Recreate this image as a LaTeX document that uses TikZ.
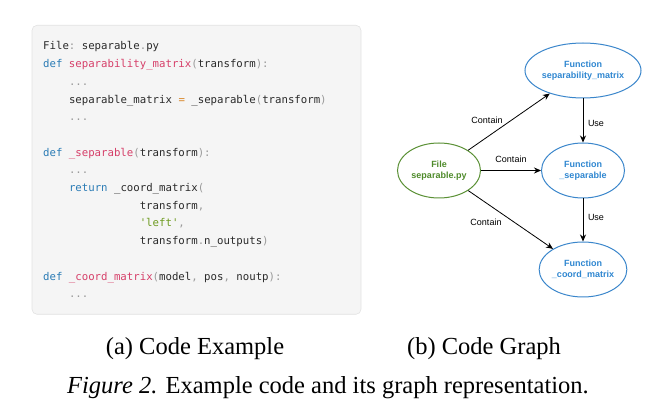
\documentclass[tikz,border=0pt]{standalone}
\usepackage{fontspec}
\setmainfont{Liberation Serif}
\setsansfont{Liberation Sans}
\setmonofont{DejaVu Sans Mono}
\usetikzlibrary{shapes.geometric,arrows.meta}
\definecolor{boxfill}{HTML}{F5F5F5}
\definecolor{boxborder}{HTML}{E2E2E2}
\definecolor{ckwcol}{HTML}{2A7BB5}
\definecolor{cfncol}{HTML}{D63F69}
\definecolor{cstcol}{HTML}{6E9B21}
\definecolor{cpucol}{HTML}{9A9A9A}
\definecolor{copcol}{HTML}{D9882A}
\definecolor{ctxcol}{HTML}{2A2A2A}
\definecolor{fnblue}{HTML}{3A86CB}
\definecolor{fntext}{HTML}{2E86D0}
\definecolor{filegreen}{HTML}{5A9035}
\definecolor{filetext}{HTML}{4E8A2A}
\newcommand{\ckw}[1]{\textcolor{ckwcol}{#1}}
\newcommand{\cfn}[1]{\textcolor{cfncol}{#1}}
\newcommand{\cst}[1]{\textcolor{cstcol}{#1}}
\newcommand{\cpu}[1]{\textcolor{cpucol}{#1}}
\newcommand{\cop}[1]{\textcolor{copcol}{#1}}
\begin{document}
\begin{tikzpicture}[x=1pt,y=-1pt,
  codebox/.style={draw=boxborder, fill=boxfill, rounded corners=5pt, line width=0.6pt, inner sep=0pt, anchor=north west},
  codeline/.style={anchor=base west, inner sep=0pt, text=ctxcol, font=\ttfamily\fontsize{10.7}{12}\selectfont},
  fnnode/.style={ellipse, draw=fnblue, line width=1pt, minimum width=83pt, minimum height=55pt, inner sep=0pt, align=center, text=fntext, font=\sffamily\bfseries\fontsize{9}{10.5}\selectfont},
  filenode/.style={ellipse, draw=filegreen, line width=1pt, minimum width=83pt, minimum height=55pt, inner sep=0pt, align=center, text=filetext, font=\sffamily\bfseries\fontsize{9}{10.5}\selectfont},
  arr/.style={-{Stealth[length=7pt,width=6pt]}, line width=0.8pt, black},
  elabel/.style={inner sep=0pt, font=\sffamily\fontsize{9}{10}\selectfont},
  captext/.style={inner sep=0pt, anchor=base, font=\rmfamily\fontsize{24.5}{28}\selectfont}
]
\path[use as bounding box] (0,0) rectangle (654,414);

% code panel
\node[codebox, minimum width=329pt, minimum height=289pt] (codepanel) at (31.7,25) {};
\node[codeline] (c0) at (43,50) {File\cpu{:} separable\cpu{.}py};
\node[codeline] (c1) at (43,67.7) {\ckw{def} \cfn{separability\_matrix}\cpu{(}transform\cpu{):}};
\node[codeline] (c2) at (68.8,85.4) {\cpu{...}};
\node[codeline] (c3) at (68.8,103.1) {separable\_matrix \cop{=} \_separable\cpu{(}transform\cpu{)}};
\node[codeline] (c4) at (68.8,120.8) {\cpu{...}};
\node[codeline] (c6) at (43,156.2) {\ckw{def} \cfn{\_separable}\cpu{(}transform\cpu{):}};
\node[codeline] (c7) at (68.8,173.9) {\cpu{...}};
\node[codeline] (c8) at (68.8,191.6) {\ckw{return} \_coord\_matrix\cpu{(}};
\node[codeline] (c9) at (139.6,209.3) {transform\cpu{,}};
\node[codeline] (c10) at (139.6,227) {\cst{\textquotesingle left\textquotesingle}\cpu{,}};
\node[codeline] (c11) at (139.6,244.7) {transform\cpu{.}n\_outputs\cpu{)}};
\node[codeline] (c13) at (43,280.1) {\ckw{def} \cfn{\_coord\_matrix}\cpu{(}model\cpu{,} pos\cpu{,} noutp\cpu{):}};
\node[codeline] (c14) at (68.8,297.8) {\cpu{...}};

% graph
\node[filenode] (file) at (439,170.5) {File\\separable.py};
\node[fnnode] (sm) at (583,70.5) {Function\\separability\_matrix};
\node[fnnode] (sep) at (583,170.5) {Function\\\_separable};
\node[fnnode] (coord) at (583,269.5) {Function\\\_coord\_matrix};

\draw[arr] (file) -- (sm);
\draw[arr] (file) -- (sep);
\draw[arr] (file) -- (coord);
\draw[arr] (sm) -- (sep);
\draw[arr] (sep) -- (coord);

\node[elabel] (l1) at (487,120) {Contain};
\node[elabel] (l2) at (511,159) {Contain};
\node[elabel] (l3) at (486,222) {Contain};
\node[elabel] (u1) at (596,123) {Use};
\node[elabel] (u2) at (596,217) {Use};

% captions
\node[captext] (capa) at (195,355) {(a) Code Example};
\node[captext] (capb) at (484,355) {(b) Code Graph};
\node[captext] (capfig) at (328,393.5) {\textit{Figure 2.} Example code and its graph representation.};
\end{tikzpicture}
\end{document}
